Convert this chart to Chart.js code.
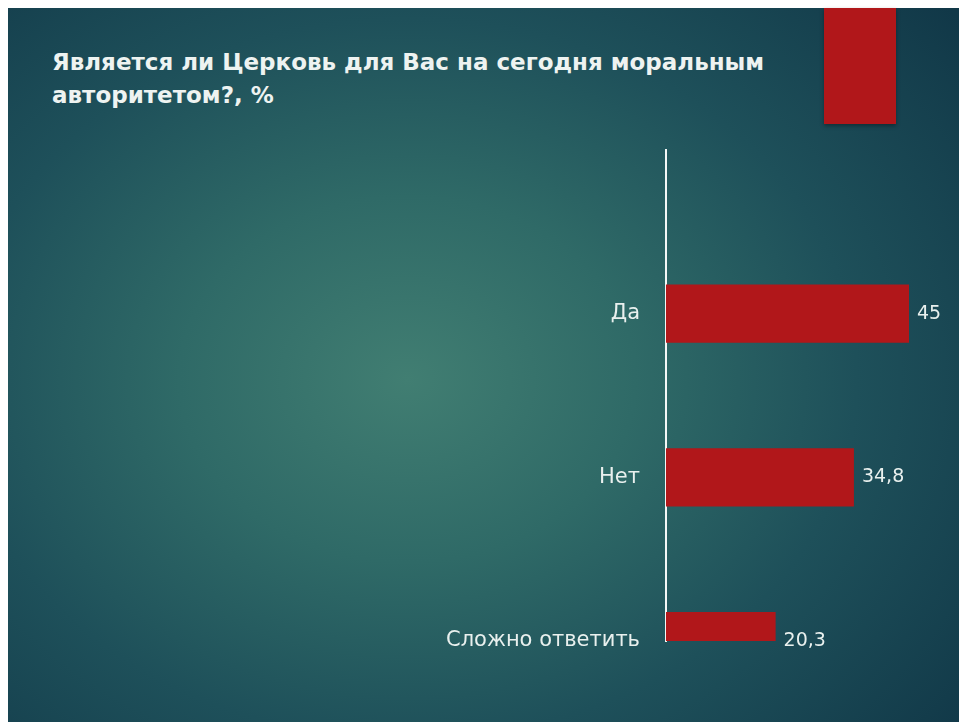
<!DOCTYPE html>
<html lang="ru">
<head>
<meta charset="utf-8">
<title>Церковь как моральный авторитет</title>
<script src="https://cdn.jsdelivr.net/npm/chart.js@4/dist/chart.umd.min.js"></script>
<style>
  html, body { margin: 0; padding: 0; background: #fff; }
  body { width: 959px; height: 722px; position: relative; overflow: hidden; }
  .slide {
    position: absolute; left: 8px; top: 8px; width: 951px; height: 714px;
    background: radial-gradient(ellipse 75% 80% at 42% 52%, #417e72 0%, #2f6a67 32%, #1e505a 63%, #113848 100%);
  }
  .tag {
    position: absolute; left: 824px; top: 8px; width: 72px; height: 116px;
    background: #b1171a; box-shadow: 0 2px 4px rgba(0,0,0,0.35);
  }
  .title {
    position: absolute; left: 52px; top: 46px;
    color: #eef3f1; font: bold 23px "DejaVu Sans", sans-serif;
    line-height: 33px;
  }
  .wrap { position: absolute; left: 0; top: 0; width: 959px; height: 722px; }
</style>
</head>
<body>
<div class="slide"></div>
<div class="tag"></div>
<div class="title">Является ли Церковь для Вас на сегодня моральным<br>авторитетом?, %</div>
<div class="wrap"><canvas id="barChart"></canvas></div>
<script>
const categories = ['Да', 'Нет', 'Сложно ответить'];
const values = [45, 34.8, 20.3];

const textColor = '#e9f0ee';

// value labels to the right of each bar, comma as decimal mark
const valueLabels = {
    id: 'valueLabels',
    afterDatasetsDraw(chart) {
        const ctx = chart.ctx;
        const meta = chart.getDatasetMeta(0);
        ctx.save();
        ctx.fillStyle = textColor;
        ctx.font = '19px "DejaVu Sans", sans-serif';
        ctx.textBaseline = 'middle';
        ctx.textAlign = 'left';
        meta.data.forEach((bar, i) => {
            ctx.fillText(String(values[i]).replace('.', ','), bar.x + 8, bar.y);
        });
        ctx.restore();
    }
};

function initChart() {
    const ctx = document.getElementById('barChart').getContext('2d');
    new Chart(ctx, {
        type: 'bar',
        data: {
            datasets: [{
                data: values.map((v, i) => ({ x: v, y: i })),
                backgroundColor: '#b1171a',
                categoryPercentage: 1,
                barPercentage: 0.355
            }]
        },
        options: {
            indexAxis: 'y',
            animation: false,
            responsive: true,
            maintainAspectRatio: false,
            layout: { padding: { left: 0, top: 150, right: 23, bottom: 81 } },
            plugins: { legend: { display: false }, tooltip: { enabled: false } },
            scales: {
                x: { type: 'linear', display: false, min: 0, max: 50 },
                y: {
                    type: 'linear',
                    reverse: true,
                    offset: false,
                    min: -1,
                    max: 2,
                    afterFit: s => { s.width = 666; },
                    grid: { display: false, drawTicks: false },
                    border: { display: true, color: '#f4f7f6', width: 2 },
                    ticks: {
                        stepSize: 1,
                        padding: 26,
                        color: textColor,
                        font: { family: '"DejaVu Sans", sans-serif', size: 21 },
                        callback: v => categories[v] ?? ''
                    }
                }
            }
        },
        plugins: [valueLabels]
    });
}

initChart();
</script>
</body>
</html>
